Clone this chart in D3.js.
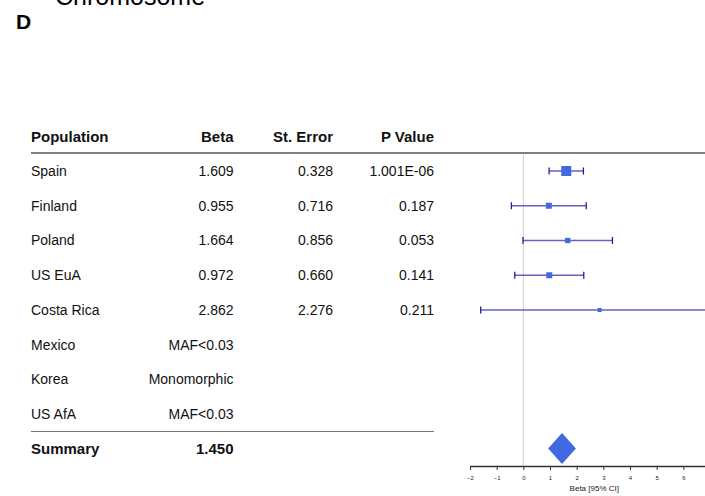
<!DOCTYPE html>
<html><head><meta charset="utf-8">
<script src="https://cdn.jsdelivr.net/npm/d3@7"></script>
<style>html,body{margin:0;padding:0;background:#fff;}svg{display:block;font-family:"Liberation Sans",Arial,sans-serif;}</style>
</head><body>
<svg id="c" width="705" height="496"></svg>
<script>
const headers = ["Population", "Beta", "St. Error", "P Value"];
const populations = ["Spain", "Finland", "Poland", "US EuA", "Costa Rica", "Mexico", "Korea", "US AfA"];
const betaText = ["1.609", "0.955", "1.664", "0.972", "2.862", "MAF<0.03", "Monomorphic", "MAF<0.03"];
const seText = ["0.328", "0.716", "0.856", "0.660", "2.276", "", "", ""];
const pText = ["1.001E-06", "0.187", "0.053", "0.141", "0.211", "", "", ""];
const beta = [1.609, 0.955, 1.664, 0.972, 2.862];
const lower = [0.966, -0.448, -0.014, -0.322, -1.599];
const upper = [2.252, 2.358, 3.342, 2.266, 7.323];
const boxSize = [10, 6, 5.3, 6, 4];
const summaryLabel = "Summary";
const summaryBeta = 1.450, summaryLower = 0.93, summaryUpper = 1.97;
const tickVals = [-2, -1, 0, 1, 2, 3, 4, 5, 6];
const xDomain = [-2, 7.32];

const svg = d3.select("#c");
const x = d3.scaleLinear().domain(xDomain).range([470, 470 + (xDomain[1] - xDomain[0]) * 26.67]);
const y = d3.scaleLinear().domain([0, 9]).range([136.25, 136.25 + 9 * 34.75]);
const colX = [31, 233.5, 333, 434];
const anchors = ["start", "end", "end", "end"];

// partial title and panel letter
svg.append("text").attr("x", 55).attr("y", 5).attr("font-size", 25).attr("fill", "#000").text("Chromosome");
svg.append("text").attr("x", 16).attr("y", 28.5).attr("font-size", 21).attr("font-weight", "bold").attr("fill", "#000").text("D");

// headers
svg.selectAll("text.h").data(headers).join("text").attr("class", "h")
  .attr("x", (d, i) => colX[i]).attr("y", y(0)).attr("dy", "0.35em")
  .attr("text-anchor", (d, i) => anchors[i]).attr("font-size", 15).attr("font-weight", "bold").attr("fill", "#111")
  .text(d => d);

// header line
svg.append("line").attr("x1", 31).attr("x2", 705).attr("y1", 153).attr("y2", 153).attr("stroke", "#555").attr("stroke-width", 1.3);

// rows
const cols = [populations, betaText, seText, pText];
cols.forEach((arr, ci) => {
  svg.append("g").selectAll("text").data(arr).join("text")
    .attr("x", colX[ci]).attr("y", (d, i) => y(i + 1)).attr("dy", "0.35em")
    .attr("text-anchor", anchors[ci]).attr("font-size", 14).attr("fill", "#111").text(d => d);
});

// summary line + row
svg.append("line").attr("x1", 31).attr("x2", 434).attr("y1", 431.5).attr("y2", 431.5).attr("stroke", "#777").attr("stroke-width", 1);
svg.append("text").attr("x", colX[0]).attr("y", y(9)).attr("dy", "0.35em").attr("font-size", 15).attr("font-weight", "bold").attr("fill", "#111").text(summaryLabel);
svg.append("text").attr("x", colX[1]).attr("y", y(9)).attr("dy", "0.35em").attr("text-anchor", "end").attr("font-size", 15).attr("font-weight", "bold").attr("fill", "#111").text(summaryBeta.toFixed(3));

// zero line
const axisY = 466;
svg.append("line").attr("x1", x(0)).attr("x2", x(0)).attr("y1", 153.7).attr("y2", axisY).attr("stroke", "#cfcfcf").attr("stroke-width", 1);

// CI lines
const g = svg.append("g");
const idx = d3.range(beta.length);
g.selectAll("line.ci").data(idx).join("line").attr("class", "ci")
  .attr("x1", i => x(lower[i])).attr("x2", i => x(upper[i]))
  .attr("y1", i => y(i + 1)).attr("y2", i => y(i + 1))
  .attr("stroke", "#3c3cb0").attr("stroke-opacity", 0.8).attr("stroke-width", 1.4);
[lower, upper].forEach(arr => {
  g.selectAll(null).data(idx).join("line")
    .attr("x1", i => x(arr[i])).attr("x2", i => x(arr[i]))
    .attr("y1", i => y(i + 1) - 3.5).attr("y2", i => y(i + 1) + 3.5)
    .attr("stroke", "#1f1f96").attr("stroke-width", 1.3);
});
g.selectAll("rect").data(idx).join("rect")
  .attr("x", i => x(beta[i]) - boxSize[i] / 2).attr("y", i => y(i + 1) - boxSize[i] / 2)
  .attr("width", i => boxSize[i]).attr("height", i => boxSize[i])
  .attr("fill", "#4169E1");

// summary diamond
const sy = y(9) - 0.5;
svg.append("path")
  .attr("d", `M${x(summaryLower)},${sy} L${x(summaryBeta)},${sy - 15.5} L${x(summaryUpper)},${sy} L${x(summaryBeta)},${sy + 15.5} Z`)
  .attr("fill", "#4169E1");

// axis
const ax = svg.append("g").attr("transform", `translate(0,${axisY})`)
  .call(d3.axisBottom(x).tickValues(tickVals).tickSize(4).tickSizeOuter(0).tickPadding(6).tickFormat(d3.format("d")));
ax.select(".domain").attr("stroke", "#333").attr("stroke-width", 1.3);
ax.selectAll(".tick line").attr("stroke", "#333").attr("stroke-width", 1);
ax.selectAll(".tick text").attr("font-size", 6).attr("fill", "#222").attr("font-family", "Liberation Sans, Arial, sans-serif");
svg.append("text").attr("x", x((xDomain[0] + xDomain[1]) / 2)).attr("y", 488).attr("dy", "0.35em")
  .attr("text-anchor", "middle").attr("font-size", 8).attr("fill", "#222").text("Beta [95% CI]");
</script>
</body></html>
